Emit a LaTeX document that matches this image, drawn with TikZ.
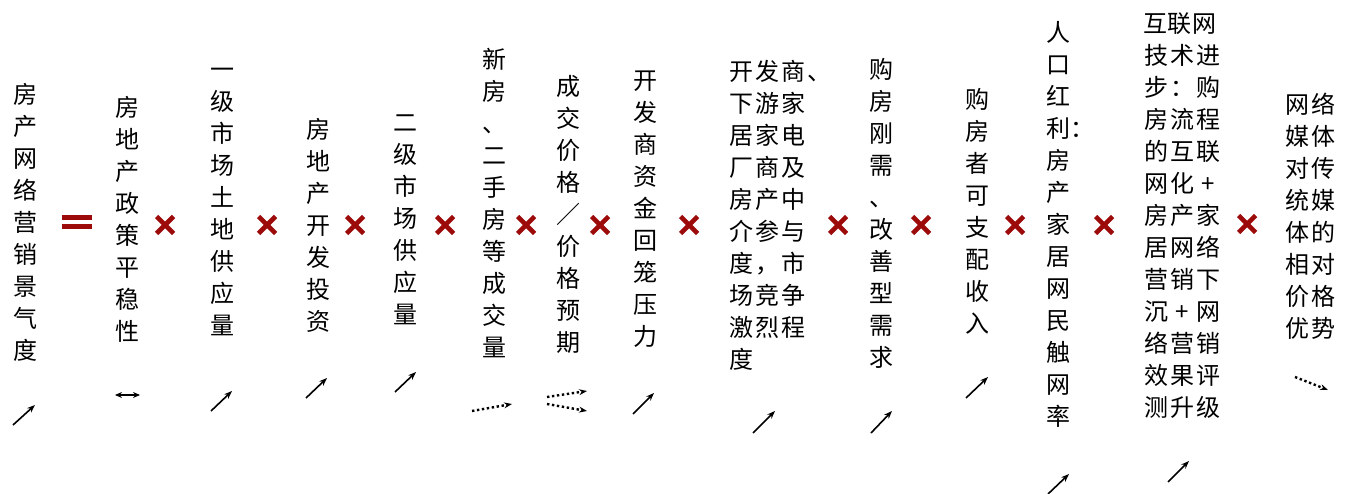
\documentclass[tikz,border=0pt]{standalone}
\usepackage{fontspec}
\newfontfamily\cjk{Noto Sans CJK SC}
\usetikzlibrary{arrows.meta,calc}
\definecolor{mred}{HTML}{9C0A0A}
\newlength\cw
\setlength\cw{26pt}
\def\hl#1{\hlx#1\relax}
\def\hlx#1{\ifx\relax#1\else\makebox[\cw]{#1}\expandafter\hlx\fi}
\tikzset{
  col/.style={anchor=north, align=center, inner sep=0pt, font=\cjk\fontsize{24}{32}\selectfont},
  hcol/.style={anchor=north west, align=left, inner sep=0pt, font=\cjk\fontsize{24}{32}\selectfont},
  trend/.style={line width=1.6pt, -{Stealth[length=8pt,width=6pt]}},
  dtrend/.style={line width=2.4pt, dash pattern=on 2.4pt off 2.6pt, -{Stealth[length=8pt,width=6pt,line width=0pt]}},
  both/.style={line width=1.6pt, {Stealth[length=7pt,width=6pt]}-{Stealth[length=7pt,width=6pt]}},
  timesbar/.style={mred, line width=4.6pt},
}
\newcommand\timesmark[2]{%
  \coordinate (#1) at (#2);
  \draw[timesbar] ($(#1)+(-8.5,-8.5)$) -- ($(#1)+(8.5,8.5)$);
  \draw[timesbar] ($(#1)+(-8.5,8.5)$) -- ($(#1)+(8.5,-8.5)$);}
\begin{document}
\begin{tikzpicture}[x=1pt,y=-1pt]
\useasboundingbox (0,0) rectangle (1349,494);
% columns
\node[col] (c1) at (25,83) {房\\产\\网\\络\\营\\销\\景\\气\\度};
\node[col] (c2) at (127,96) {房\\地\\产\\政\\策\\平\\稳\\性};
\node[col] (c3) at (222,68) {一\\级\\市\\场\\土\\地\\供\\应\\量};
\node[col] (c4) at (318,118) {房\\地\\产\\开\\发\\投\\资};
\node[col] (c5) at (405,115) {二\\级\\市\\场\\供\\应\\量};
\node[col] (c6) at (494,48) {新\\房\\、\\二\\手\\房\\等\\成\\交\\量};
\node[col] (c7) at (568,75) {成\\交\\价\\格\\／\\价\\格\\预\\期};
\node[col] (c8) at (645,71) {开\\发\\商\\资\\金\\回\\笼\\压\\力};
\node[hcol] (c9) at (728,60) {\hl{开发商、}\\\hl{下游家}\\\hl{居家电}\\\hl{厂商及}\\\hl{房产中}\\\hl{介参与}\\\hl{度，市}\\\hl{场竞争}\\\hl{激烈程}\\\hl{度}};
\node[col] (c10) at (881,58) {购\\房\\刚\\需\\、\\改\\善\\型\\需\\求};
\node[col] (c11) at (977,88) {购\\房\\者\\可\\支\\配\\收\\入};
\node[col] (c12) at (1058,21) {人\\口\\红\\利\rlap{：}\\房\\产\\家\\居\\网\\民\\触\\网\\率};
\node[hcol] (c13) at (1143,13) {\setlength\cw{24.5pt}\hl{互联网}\\\hl{技术进}\\\hl{步：购}\\\hl{房流程}\\\hl{的互联}\\\hl{网化+}\\\hl{房产家}\\\hl{居网络}\\\hl{营销下}\\\hl{沉+网}\\\hl{络营销}\\\hl{效果评}\\\hl{测升级}};
\node[hcol] (c14) at (1284,93) {\hl{网络}\\\hl{媒体}\\\hl{对传}\\\hl{统媒}\\\hl{体的}\\\hl{相对}\\\hl{价格}\\\hl{优势}};
% equals sign
\coordinate (eq) at (77,222);
\fill[mred] (62,215) rectangle (92,220);
\fill[mred] (62,224) rectangle (92,229);
% times signs
\timesmark{x1}{165,225}
\timesmark{x2}{267,225}
\timesmark{x3}{355,225}
\timesmark{x4}{445,225}
\timesmark{x5}{526,225}
\timesmark{x6}{600,225}
\timesmark{x7}{689,225}
\timesmark{x8}{838,225}
\timesmark{x9}{921,225}
\timesmark{x10}{1015,225}
\timesmark{x11}{1104,225}
\timesmark{x12}{1247,224}
% trend arrows
\coordinate (a1s) at (13,425); \coordinate (a1e) at (35,405);
\coordinate (a2s) at (115,395); \coordinate (a2e) at (140,395);
\coordinate (a3s) at (211,411); \coordinate (a3e) at (232,391);
\coordinate (a4s) at (306,398); \coordinate (a4e) at (327,378);
\coordinate (a5s) at (395,392); \coordinate (a5e) at (416,372);
\coordinate (a6s) at (472,411); \coordinate (a6e) at (512,404);
\coordinate (a7s) at (547,397); \coordinate (a7e) at (587,391);
\coordinate (a7bs) at (547,404); \coordinate (a7be) at (587,411);
\coordinate (a8s) at (633,414); \coordinate (a8e) at (654,393);
\coordinate (a9s) at (753,433); \coordinate (a9e) at (775,411);
\coordinate (a10s) at (871,433); \coordinate (a10e) at (892,411);
\coordinate (a11s) at (966,398); \coordinate (a11e) at (988,377);
\coordinate (a12s) at (1048,494); \coordinate (a12e) at (1069,474);
\coordinate (a13s) at (1168,482); \coordinate (a13e) at (1189,461);
\coordinate (a14s) at (1295,377); \coordinate (a14e) at (1328,390);
\draw[trend] (a1s) -- (a1e);
\draw[both] (a2s) -- (a2e);
\draw[trend] (a3s) -- (a3e);
\draw[trend] (a4s) -- (a4e);
\draw[trend] (a5s) -- (a5e);
\draw[dtrend] (a6s) -- (a6e);
\draw[dtrend] (a7s) -- (a7e);
\draw[dtrend] (a7bs) -- (a7be);
\draw[trend] (a8s) -- (a8e);
\draw[trend] (a9s) -- (a9e);
\draw[trend] (a10s) -- (a10e);
\draw[trend] (a11s) -- (a11e);
\draw[trend] (a12s) -- (a12e);
\draw[trend] (a13s) -- (a13e);
\draw[dtrend] (a14s) -- (a14e);
\end{tikzpicture}
\end{document}
